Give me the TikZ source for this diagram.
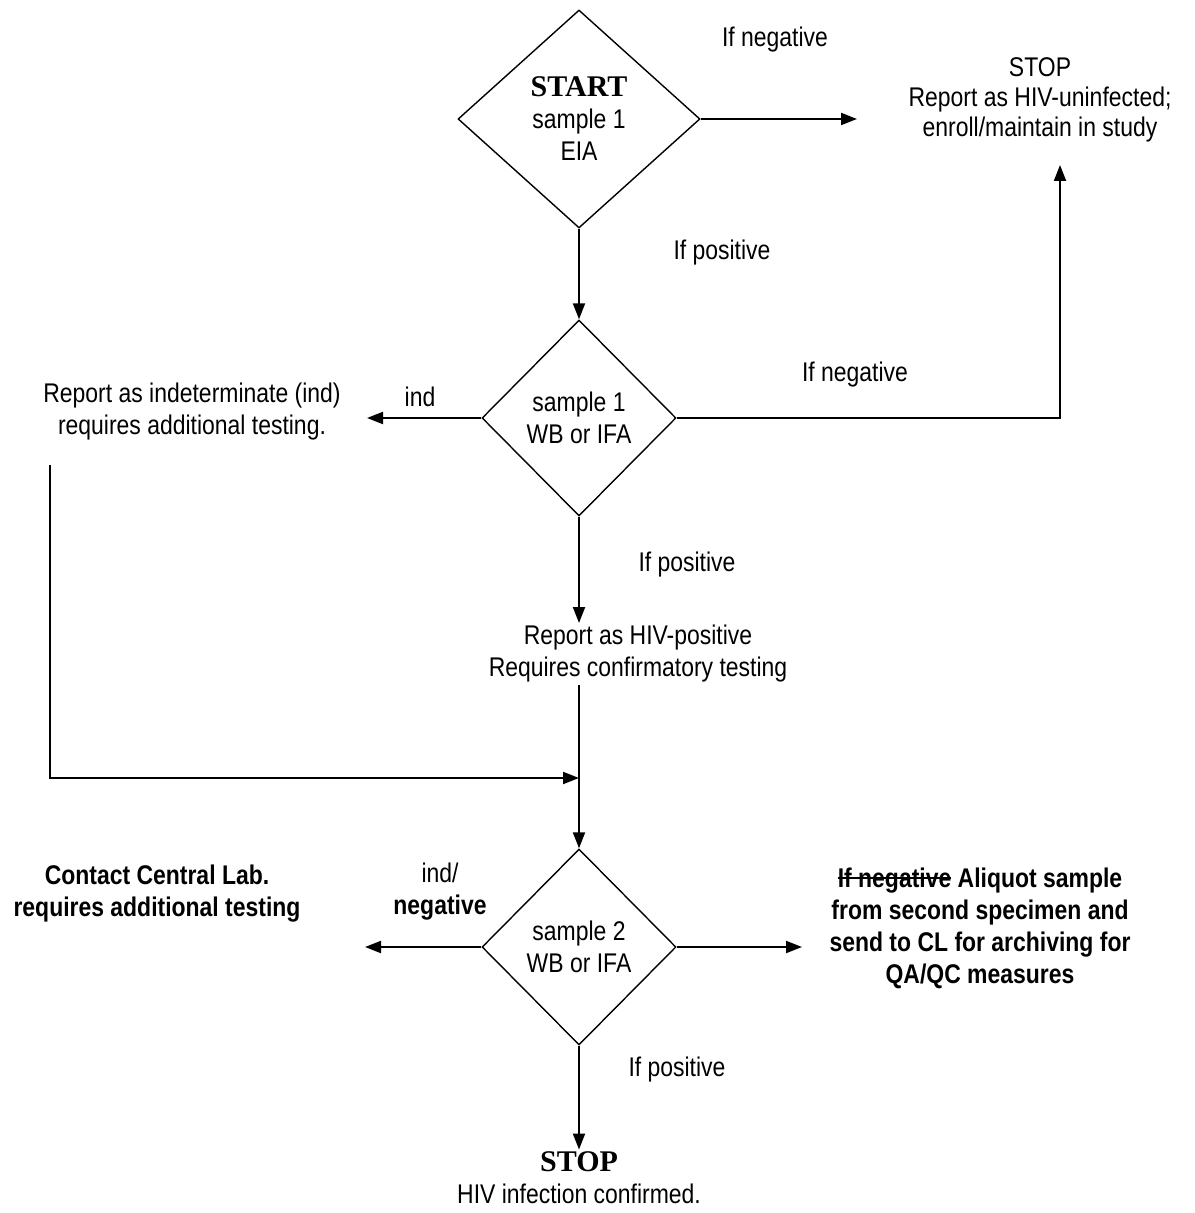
\documentclass[tikz,border=0pt]{standalone}
\usepackage{fontspec}
\setmainfont{Liberation Sans}[FakeStretch=0.85]
\newfontfamily\titlefont{Liberation Serif}
\usetikzlibrary{arrows.meta,positioning,shapes.geometric,calc}
\tikzset{
  dec/.style={draw, diamond, line width=0.7pt, inner sep=0pt, align=center, font=\fontsize{13.5}{16}\selectfont},
  note/.style={align=center, inner sep=1pt, font=\fontsize{13.5}{16}\selectfont},
  boldnote/.style={note, font=\fontsize{13.5}{16}\selectfont\bfseries},
  lbl/.style={inner sep=1pt, align=center, font=\fontsize{13.5}{16}\selectfont},
  arrow/.style={-{Triangle[length=8pt,width=6pt]}, line width=1pt},
}
\newcommand{\stopword}[1]{{\titlefont\bfseries\fontsize{15}{16}\selectfont #1}}
\newsavebox{\strikebox}
\newcommand{\struck}[1]{\sbox{\strikebox}{#1}\rlap{\rule[0.3em]{\wd\strikebox}{0.07em}}\usebox{\strikebox}}

\begin{document}
\begin{tikzpicture}[x=0.5pt, y=-0.5pt]
  \useasboundingbox (0,0) rectangle (1194,1213);

  \node[dec, minimum width=121pt, minimum height=109pt] (eia) at (579,119) {\stopword{START}\\sample 1\\EIA};
  \node[note, font=\fontsize{13.5}{15}\selectfont] (neg1) at (1040,100) {STOP\\Report as HIV-uninfected;\\enroll/maintain in study};
  \node[dec, minimum width=97pt, minimum height=98pt] (wb1) at (579,418) {sample 1\\WB or IFA};
  \node[note] (ind1) at (192,412) {Report as indeterminate (ind)\\requires additional testing.};
  \node[note] (pos1) at (638,654) {Report as HIV-positive\\Requires confirmatory testing};
  \node[dec, minimum width=97pt, minimum height=98pt] (wb2) at (579,947) {sample 2\\WB or IFA};
  \node[boldnote] (cl) at (157,894) {Contact Central Lab.\\requires additional testing};
  \node[boldnote] (aliq) at (980,928) {\struck{If negative} Aliquot sample\\from second specimen and\\send to CL for archiving for\\QA/QC measures};
  \node[note] (stop2) at (579,1178) {\stopword{STOP}\\HIV infection confirmed.};

  \node[lbl] (lnegA) at (775,40) {If negative};
  \node[lbl] (lposA) at (722,253) {If positive};
  \node[lbl] (lnegB) at (855,375) {If negative};
  \node[lbl] (lindA) at (420,397) {ind};
  \node[lbl] (lposB) at (687,565) {If positive};
  \node[lbl] (lindB) at (440,892) {ind/\\\textbf{negative}};
  \node[lbl] (lposC) at (677,1070) {If positive};

  \coordinate (negA) at (857,119);
  \coordinate (negB) at (1060,165);
  \coordinate (indA) at (367,418);
  \coordinate (indB) at (50,465);
  \coordinate (joinA) at (579,778);
  \coordinate (clA) at (365,947);
  \coordinate (aliqA) at (802,947);

  \draw[arrow] (eia.east) -- (negA);
  \draw[arrow] (eia.south) -- (wb1.north);
  \draw[arrow] (wb1.east) -| (negB);
  \draw[arrow] (wb1.west) -- (indA);
  \draw[arrow] (wb1.south) -- (wb1.south |- pos1.north);
  \draw[arrow] (indB) |- (joinA);
  \draw[arrow] (pos1.south -| wb2.north) -- (wb2.north);
  \draw[arrow] (wb2.west) -- (clA);
  \draw[arrow] (wb2.east) -- (aliqA);
  \draw[arrow] (wb2.south) -- (stop2.north);
\end{tikzpicture}
\end{document}
